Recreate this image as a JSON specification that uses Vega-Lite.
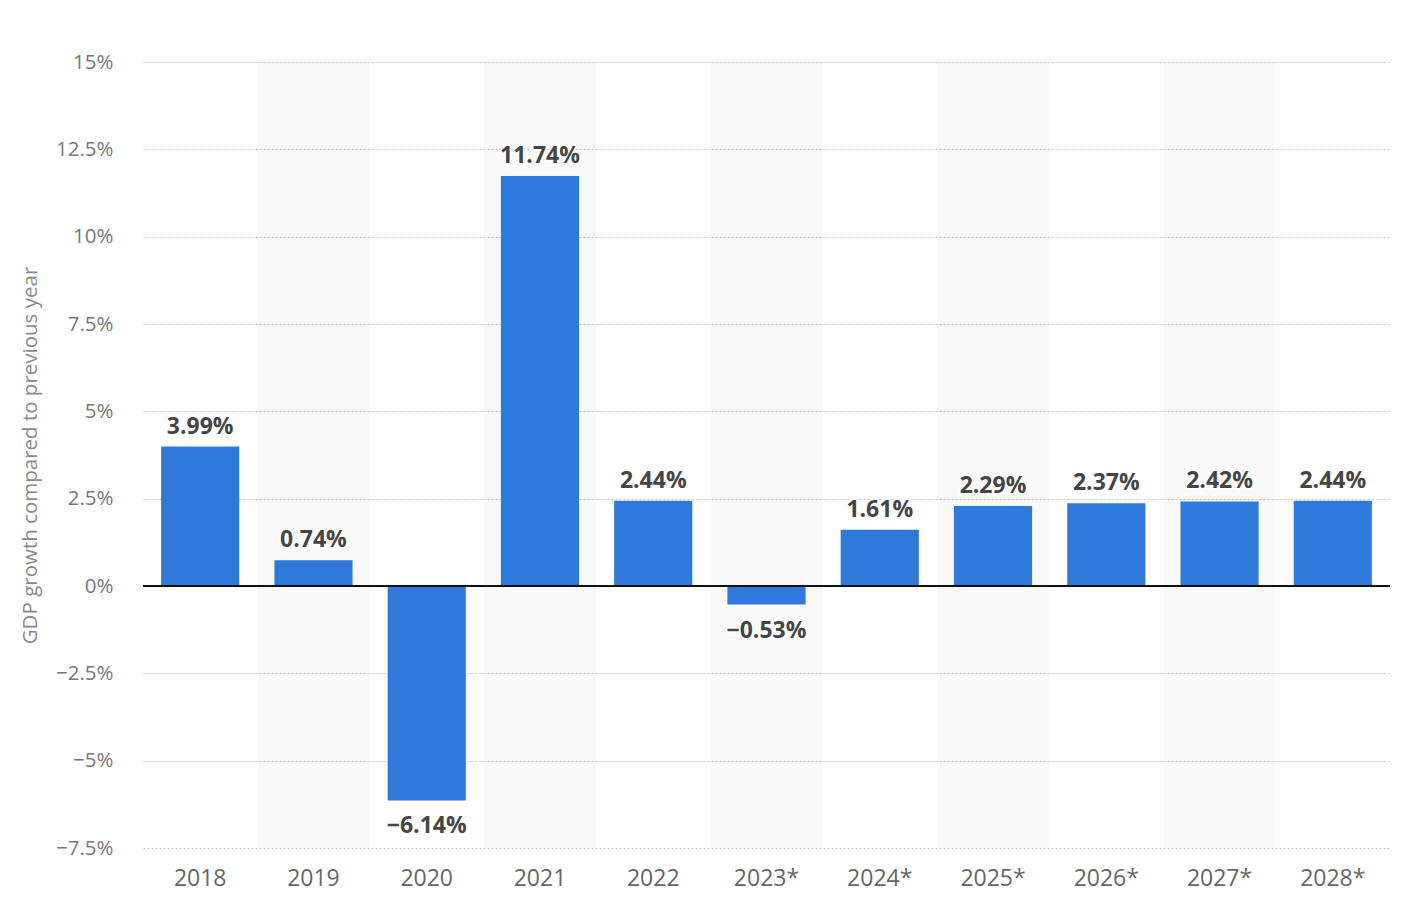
{
  "$schema": "https://vega.github.io/schema/vega-lite/v6.json",
  "width": 1247,
  "height": 786,
  "autosize": {"type": "none"},
  "padding": {"left": 143, "top": 62, "right": 12, "bottom": 54},
  "background": "#ffffff",
  "config": {"view": {"stroke": null}, "font": "Open Sans"},
  "data": {
    "values": [
      {"year": "2018", "growth": 3.99},
      {"year": "2019", "growth": 0.74},
      {"year": "2020", "growth": -6.14},
      {"year": "2021", "growth": 11.74},
      {"year": "2022", "growth": 2.44},
      {"year": "2023*", "growth": -0.53},
      {"year": "2024*", "growth": 1.61},
      {"year": "2025*", "growth": 2.29},
      {"year": "2026*", "growth": 2.37},
      {"year": "2027*", "growth": 2.42},
      {"year": "2028*", "growth": 2.44}
    ]
  },
  "encoding": {
    "x": {
      "field": "year",
      "type": "nominal",
      "sort": ["2018", "2019", "2020", "2021", "2022", "2023*", "2024*", "2025*", "2026*", "2027*", "2028*"],
      "scale": {"paddingInner": 0.31, "paddingOuter": 0.16},
      "axis": {
        "title": null,
        "domain": false,
        "ticks": false,
        "labelAngle": 0,
        "labelPadding": 19,
        "labelFontSize": 23,
        "labelColor": "#666666",
        "labelFont": "Open Sans",
        "grid": false
      }
    }
  },
  "layer": [
    {
      "transform": [{"filter": {"field": "year", "oneOf": ["2019", "2021", "2023*", "2025*", "2027*"]}}],
      "mark": {"type": "bar", "color": "#000000", "opacity": 0.024, "width": {"band": 1.435}},
      "encoding": {
        "y": {
          "datum": 15,
          "type": "quantitative",
          "scale": {"domain": [-7.5, 15], "nice": false, "zero": false},
          "axis": {
            "values": [-7.5, -5, -2.5, 0, 2.5, 5, 7.5, 10, 12.5, 15],
            "labelExpr": "format(datum.value, '~g') + '%'",
            "domain": false,
            "ticks": false,
            "grid": true,
            "gridColor": "#c4c4c4",
            "gridDash": [2, 2],
            "gridWidth": 1,
            "labelPadding": 30,
            "labelFontSize": 20.5,
            "labelColor": "#777777",
            "labelFont": "Open Sans",
            "title": "GDP growth compared to previous year",
            "titleFontSize": 20.5,
            "titleFontWeight": "normal",
            "titleColor": "#8a8a8a",
            "titleFont": "Open Sans",
            "titleX": -113,
            "titleY": 393,
            "titleAngle": -90,
            "titleBaseline": "middle",
            "titleAlign": "center"
          }
        },
        "y2": {"datum": -7.5}
      }
    },
    {
      "mark": {"type": "bar", "color": "#2e79d9"},
      "encoding": {
        "y": {"field": "growth", "type": "quantitative"}
      }
    },
    {
      "mark": {"type": "rule", "color": "#111111", "strokeWidth": 2},
      "encoding": {"y": {"datum": 0, "type": "quantitative"}, "x": {"value": 0}, "x2": {"value": 1247}}
    },
    {
      "transform": [{"filter": "datum.growth >= 0"}],
      "mark": {"type": "text", "baseline": "alphabetic", "dy": -13, "fontSize": 23, "fontWeight": "bold", "stroke": "#ffffff", "strokeWidth": 3, "strokeJoin": "round", "color": "#ffffff", "text": {"expr": "format(datum.growth, '.2f') + '%'"}},
      "encoding": {"y": {"field": "growth", "type": "quantitative"}}
    },
    {
      "transform": [{"filter": "datum.growth < 0"}],
      "mark": {"type": "text", "baseline": "top", "dy": 15, "fontSize": 23, "fontWeight": "bold", "stroke": "#ffffff", "strokeWidth": 3, "strokeJoin": "round", "color": "#ffffff", "text": {"expr": "format(datum.growth, '.2f') + '%'"}},
      "encoding": {"y": {"field": "growth", "type": "quantitative"}}
    },
    {
      "transform": [{"filter": "datum.growth >= 0"}],
      "mark": {"type": "text", "baseline": "alphabetic", "dy": -13, "fontSize": 23, "fontWeight": "bold", "color": "#454545", "text": {"expr": "format(datum.growth, '.2f') + '%'"}},
      "encoding": {"y": {"field": "growth", "type": "quantitative"}}
    },
    {
      "transform": [{"filter": "datum.growth < 0"}],
      "mark": {"type": "text", "baseline": "top", "dy": 15, "fontSize": 23, "fontWeight": "bold", "color": "#454545", "text": {"expr": "format(datum.growth, '.2f') + '%'"}},
      "encoding": {"y": {"field": "growth", "type": "quantitative"}}
    }
  ]
}
